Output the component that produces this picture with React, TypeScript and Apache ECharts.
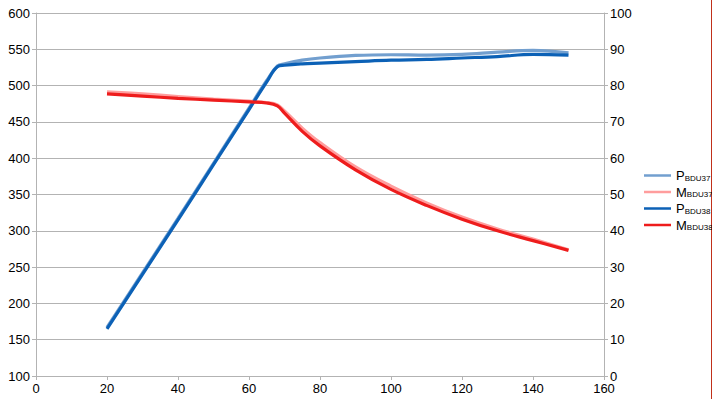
import React, { useEffect, useRef } from "react";
import * as echarts from "echarts";

const xP37 = [20, 30, 40, 50, 60, 65, 68, 70, 75, 80, 90, 100, 110, 120, 130, 140, 150];
const pBDU37 = [167, 242, 317, 393, 469, 507, 527, 530, 535, 538, 541.5, 542.5, 542, 543, 546, 548.5, 545];
const pBDU38 = [165, 240, 315, 391, 467, 505, 526, 528, 530, 531, 533, 535, 536, 538, 540, 543, 542];
const mBDU37 = [78.3, 77.7, 77.0, 76.3, 75.7, 75.3, 74.7, 73.0, 68.3, 64.3, 57.6, 52.3, 47.7, 43.8, 40.5, 37.7, 34.8];
const mBDU38 = [77.7, 77.1, 76.5, 76.0, 75.5, 75.2, 74.4, 72.4, 67.4, 63.4, 56.8, 51.4, 47.0, 43.2, 40.0, 37.3, 34.6];

const leftTicks = { min: 100, max: 600, interval: 50 };
const rightTicks = { min: 0, max: 100, interval: 10 };
const xTicks = { min: 0, max: 160, interval: 20 };

const pair = (xs: number[], ys: number[]) => xs.map((x, i) => [x, ys[i]]);

export default function App() {
  const ref = useRef<HTMLDivElement>(null);
  useEffect(() => {
    document.body.style.margin = "0";
    const chart = echarts.init(ref.current!, null, { renderer: "svg" });
    const axisLine = { show: true, lineStyle: { color: "#b3b3b3" } };
    const axisTick = { show: true, length: 4, lineStyle: { color: "#b3b3b3" } };
    const axisLabel = { color: "#000", fontSize: 13, fontFamily: "Liberation Sans" };
    const mk = (name: string, ys: number[], color: string, yIdx: number, z: number) => ({
      name,
      type: "line",
      yAxisIndex: yIdx,
      data: pair(xP37, ys),
      smooth: 0.4,
      showSymbol: false,
      symbol: "none",
      lineStyle: { color, width: 3.2 },
      itemStyle: { color },
      z,
    });
    chart.setOption({
      animation: false,
      backgroundColor: "#fff",
      grid: { left: 36, right: 108, top: 13, bottom: 23, containLabel: false },
      xAxis: {
        type: "value",
        ...xTicks,
        axisLine,
        axisTick,
        axisLabel: { ...axisLabel, margin: 6 },
        splitLine: { show: false },
      },
      yAxis: [
        {
          type: "value",
          ...leftTicks,
          axisLine,
          axisTick,
          axisLabel: { ...axisLabel, margin: 6 },
          splitLine: { show: true, lineStyle: { color: "#b3b3b3" } },
        },
        {
          type: "value",
          position: "right",
          ...rightTicks,
          axisLine,
          axisTick,
          axisLabel: { ...axisLabel, margin: 6 },
          splitLine: { show: false },
        },
      ],
      legend: {
        orient: "vertical",
        left: 644,
        top: 169,
        padding: 0,
        icon: "rect",
        itemWidth: 27,
        itemHeight: 2.5,
        itemGap: 3.5,
        formatter: (name: string) => `{m|${name[0]}}{s|${name.slice(1)}}`,
        textStyle: {
          rich: {
            m: { fontSize: 13, color: "#000", fontFamily: "Liberation Sans", lineHeight: 15 },
            s: { fontSize: 8, color: "#000", fontFamily: "Liberation Sans", padding: [5, 0, 0, 0], lineHeight: 15 },
          },
        },
        data: ["PBDU37", "MBDU37", "PBDU38", "MBDU38"],
      },
      series: [
        mk("PBDU37", pBDU37, "#729fcf", 0, 2),
        mk("MBDU37", mBDU37, "#ff9d9d", 1, 2),
        mk("PBDU38", pBDU38, "#0c61b6", 0, 3),
        mk("MBDU38", mBDU38, "#ee1c1c", 1, 3),
      ],
      graphic: [
        {
          type: "line",
          shape: { x1: 711.5, y1: 0, x2: 711.5, y2: 399 },
          style: { stroke: "#c0301a", lineWidth: 1 },
        },
      ],
    });
    return () => chart.dispose();
  }, []);
  return <div ref={ref} style={{ width: 712, height: 399 }} />;
}
